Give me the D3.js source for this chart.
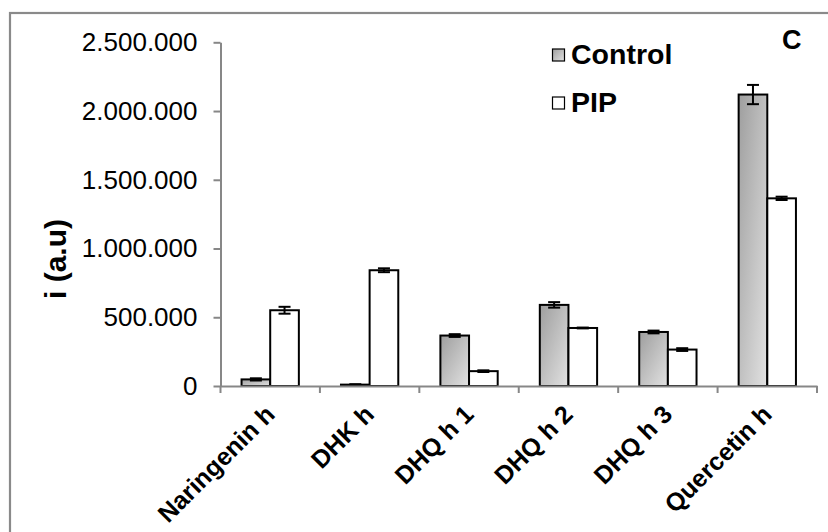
<!DOCTYPE html>
<html>
<head>
<meta charset="utf-8">
<script src="https://cdn.jsdelivr.net/npm/d3@7"></script>
<style>
  html, body { margin: 0; padding: 0; background: #fff; }
  svg { display: block; font-family: "Liberation Sans", Arial, sans-serif; }
</style>
</head>
<body>
<svg id="chart" width="828" height="532"></svg>
<script>
// Compounds measured
const categories = ["Naringenin h", "DHK h", "DHQ h 1", "DHQ h 2", "DHQ h 3", "Quercetin h"];
const seriesNames = ["Control", "PIP"];

// Intensities (a.u.) and their errors
const controlValues = [48000, 10000, 367000, 590000, 393000, 2120000];
const controlErrors = [8000, 3000, 10000, 20000, 10000, 70000];
const pipValues = [551000, 842000, 108000, 422000, 265000, 1365000];
const pipErrors = [25000, 14000, 6000, 3000, 10000, 12000];

const yTicks = [0, 500000, 1000000, 1500000, 2000000, 2500000];

const svg = d3.select("#chart");

// Outer frame (only left and top edges fall inside the page)
svg.append("rect")
  .attr("x", 10).attr("y", 13)
  .attr("width", 900).attr("height", 600)
  .attr("fill", "none")
  .attr("stroke", "#8a8a8a")
  .attr("stroke-width", 2.2);

const defs = svg.append("defs");
const grad = defs.append("linearGradient")
  .attr("id", "ctrlGrad")
  .attr("x1", "0").attr("y1", "0").attr("x2", "1").attr("y2", "1");
grad.append("stop").attr("offset", "0%").attr("stop-color", "#9e9e9e");
grad.append("stop").attr("offset", "100%").attr("stop-color", "#e2e2e2");

const plotLeft = 220.5, plotRight = 817, plotTop = 42.3, plotBottom = 386;

const x = d3.scaleBand().domain(categories).range([plotLeft, plotRight]).padding(0);
const xs = d3.scaleBand().domain(seriesNames).range([0, x.bandwidth()])
  .paddingInner(0).paddingOuter(0.735);
const y = d3.scaleLinear().domain([0, 2500000]).range([plotBottom, plotTop]);

const locale = d3.formatLocale({ decimal: ",", thousands: ".", grouping: [3], currency: ["", ""] });
const fmt = locale.format(",d");

const axisColor = "#878787";

// Y axis
const yAxis = svg.append("g")
  .attr("transform", `translate(${plotLeft},0)`)
  .call(d3.axisLeft(y).tickValues(yTicks).tickFormat(fmt).tickSize(7).tickSizeOuter(0).tickPadding(16));
yAxis.select(".domain").attr("stroke", axisColor).attr("stroke-width", 2);
yAxis.selectAll(".tick line").attr("stroke", axisColor).attr("stroke-width", 2);
yAxis.selectAll(".tick text")
  .attr("fill", "#000")
  .style("font-size", "26px")
  .style("font-family", "Liberation Sans, Arial, sans-serif");

// Bars
const rows = categories.map((c, i) => ({
  cat: c,
  items: [
    { s: "Control", v: controlValues[i], e: controlErrors[i] },
    { s: "PIP", v: pipValues[i], e: pipErrors[i] }
  ]
}));

const groups = svg.append("g").selectAll("g")
  .data(rows).join("g")
  .attr("transform", d => `translate(${x(d.cat)},0)`);

groups.selectAll("rect")
  .data(d => d.items).join("rect")
  .attr("x", d => xs(d.s))
  .attr("y", d => y(d.v))
  .attr("width", xs.bandwidth())
  .attr("height", d => y(0) - y(d.v))
  .attr("fill", d => d.s === "Control" ? "url(#ctrlGrad)" : "#fff")
  .attr("stroke", "#000")
  .attr("stroke-width", 2);

// Error bars
const capW = 12;
groups.selectAll("g.err")
  .data(d => d.items).join("g")
  .attr("class", "err")
  .each(function (d) {
    const g = d3.select(this);
    const cx = xs(d.s) + xs.bandwidth() / 2;
    const y1 = y(d.v + d.e), y2 = y(Math.max(0, d.v - d.e));
    g.append("line").attr("x1", cx).attr("x2", cx).attr("y1", y1).attr("y2", y2)
      .attr("stroke", "#000").attr("stroke-width", 2);
    [y1, y2].forEach(yy => g.append("line")
      .attr("x1", cx - capW / 2).attr("x2", cx + capW / 2)
      .attr("y1", yy).attr("y2", yy)
      .attr("stroke", "#000").attr("stroke-width", 2));
  });

// X axis
const xAxis = svg.append("g")
  .attr("transform", `translate(0,${plotBottom})`)
  .call(d3.axisBottom(x).tickValues([]).tickSizeOuter(0));
xAxis.select(".domain").attr("stroke", axisColor).attr("stroke-width", 2);
const edges = categories.map(c => x(c)).concat([plotRight]);
xAxis.selectAll("line.edge")
  .data(edges).join("line")
  .attr("class", "edge")
  .attr("x1", d => d).attr("x2", d => d)
  .attr("y1", 0).attr("y2", 7)
  .attr("stroke", axisColor).attr("stroke-width", 2);

// Category labels, rotated
svg.append("g").selectAll("text")
  .data(categories).join("text")
  .attr("transform", d => `translate(${x(d) + x.bandwidth() / 2 + 6},${plotBottom + 30}) rotate(-45)`)
  .attr("text-anchor", "end")
  .style("font-size", "25px")
  .style("font-weight", "bold")
  .text(d => d);

// Y axis title
svg.append("text")
  .attr("transform", `translate(66,259) rotate(-90)`)
  .attr("text-anchor", "middle")
  .style("font-size", "30px")
  .style("font-weight", "bold")
  .text("i (a.u)");

// Legend
const legend = svg.append("g");
const legendItems = [
  { s: "Control", fill: "url(#ctrlGrad)", y: 49 },
  { s: "PIP", fill: "#fff", y: 97 }
];
legendItems.forEach(it => {
  legend.append("rect")
    .attr("x", 552.5).attr("y", it.y)
    .attr("width", 12).attr("height", 12)
    .attr("fill", it.fill)
    .attr("stroke", "#000").attr("stroke-width", 1.2);
  legend.append("text")
    .attr("x", 571).attr("y", it.y + 14.5)
    .style("font-size", "28.5px")
    .style("font-weight", "bold")
    .text(it.s);
});

// Panel letter
svg.append("text")
  .attr("x", 782).attr("y", 49)
  .style("font-size", "27px")
  .style("font-weight", "bold")
  .text("C");
</script>
</body>
</html>
